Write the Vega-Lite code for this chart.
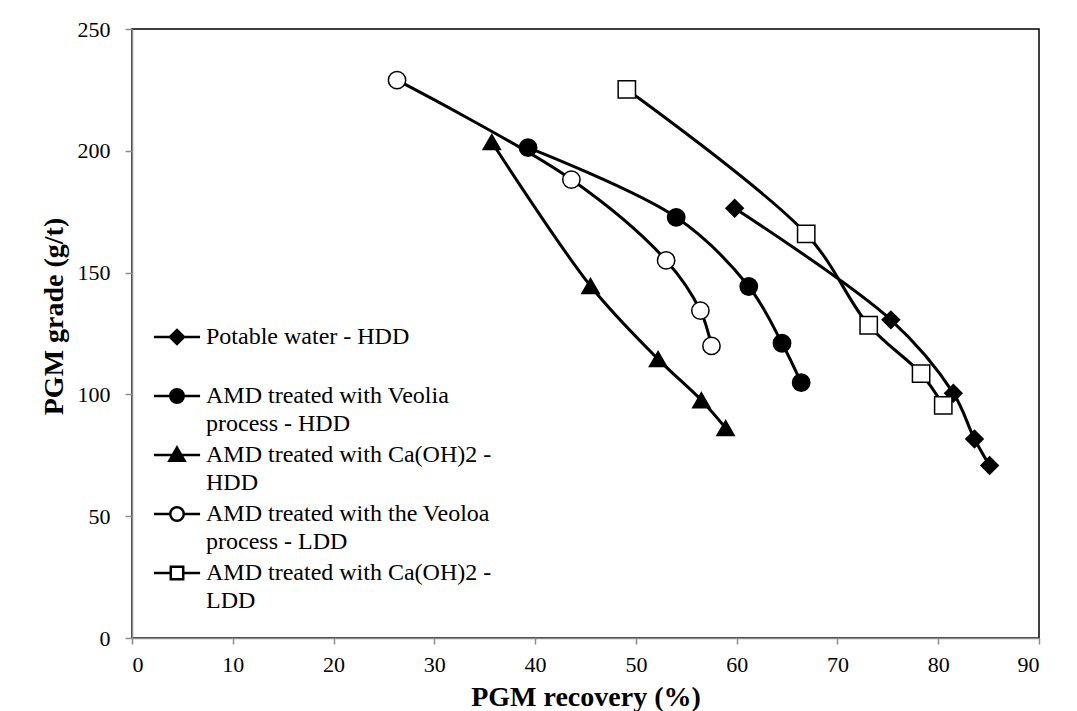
{
  "$schema": "https://vega.github.io/schema/vega-lite/v6.json",
  "width": 907,
  "height": 609,
  "autosize": {"type": "none"},
  "padding": {"left": 132, "top": 29, "right": 38, "bottom": 73},
  "background": "white",
  "config": {
    "font": "Liberation Serif",
    "view": {"stroke": "black", "strokeWidth": 1.5},
    "style": {"guide-label": {"lineHeight": 28}},
    "axis": {
      "domainColor": "#8c8c8c",
      "domainWidth": 1.5,
      "tickColor": "#8c8c8c",
      "tickWidth": 1.5,
      "grid": false,
      "labelFont": "Liberation Serif",
      "labelFontSize": 22,
      "labelColor": "black",
      "titleFont": "Liberation Serif",
      "titleFontSize": 28,
      "titleFontWeight": "bold",
      "titleColor": "black"
    },
    "legend": {
      "title": null,
      "orient": "none",
      "legendX": 26,
      "legendY": 289,
      "padding": 0,
      "rowPadding": 0,
      "labelFont": "Liberation Serif",
      "labelFontSize": 24,
      "labelColor": "black",
      "labelOffset": 10,
      "labelLimit": 0,
      "symbolStrokeWidth": 2.5,
      "symbolOpacity": 1,
      "symbolSize": 1260
    }
  },
  "data": {
    "values": [
      {"s": "Potable water - HDD", "x": 59.8, "y": 176.4},
      {"s": "Potable water - HDD", "x": 75.3, "y": 130.6},
      {"s": "Potable water - HDD", "x": 81.5, "y": 100.5},
      {"s": "Potable water - HDD", "x": 83.6, "y": 81.7},
      {"s": "Potable water - HDD", "x": 85.1, "y": 70.8},
      {"s": "AMD treated with Veolia process - HDD", "x": 39.3, "y": 201.3},
      {"s": "AMD treated with Veolia process - HDD", "x": 54.0, "y": 172.7},
      {"s": "AMD treated with Veolia process - HDD", "x": 61.2, "y": 144.3},
      {"s": "AMD treated with Veolia process - HDD", "x": 64.5, "y": 121.0},
      {"s": "AMD treated with Veolia process - HDD", "x": 66.4, "y": 104.8},
      {"s": "AMD treated with Ca(OH)2 - HDD", "x": 35.7, "y": 203.6},
      {"s": "AMD treated with Ca(OH)2 - HDD", "x": 45.5, "y": 144.5},
      {"s": "AMD treated with Ca(OH)2 - HDD", "x": 52.2, "y": 114.5},
      {"s": "AMD treated with Ca(OH)2 - HDD", "x": 56.5, "y": 97.6},
      {"s": "AMD treated with Ca(OH)2 - HDD", "x": 58.9, "y": 86.2},
      {"s": "AMD treated with the Veoloa process - LDD", "x": 26.3, "y": 229.0},
      {"s": "AMD treated with the Veoloa process - LDD", "x": 43.6, "y": 188.2},
      {"s": "AMD treated with the Veoloa process - LDD", "x": 53.0, "y": 155.0},
      {"s": "AMD treated with the Veoloa process - LDD", "x": 56.4, "y": 134.4},
      {"s": "AMD treated with the Veoloa process - LDD", "x": 57.5, "y": 119.9},
      {"s": "AMD treated with Ca(OH)2 - LDD", "x": 49.1, "y": 225.2},
      {"s": "AMD treated with Ca(OH)2 - LDD", "x": 66.9, "y": 165.9},
      {"s": "AMD treated with Ca(OH)2 - LDD", "x": 73.1, "y": 128.4},
      {"s": "AMD treated with Ca(OH)2 - LDD", "x": 78.3, "y": 108.5},
      {"s": "AMD treated with Ca(OH)2 - LDD", "x": 80.5, "y": 95.5}
    ]
  },
  "encoding": {
    "x": {
      "field": "x", "type": "quantitative",
      "scale": {"domain": [0, 90], "nice": false},
      "axis": {
        "title": "PGM recovery (%)",
        "values": [0, 10, 20, 30, 40, 50, 60, 70, 80, 90],
        "tickSize": 6,
        "labelPadding": 10,
        "titleY": 67,
        "titleBaseline": "alphabetic"
      }
    },
    "y": {
      "field": "y", "type": "quantitative",
      "scale": {"domain": [0, 250], "nice": false},
      "axis": {
        "title": "PGM grade (g/t)",
        "values": [0, 50, 100, 150, 200, 250],
        "tickSize": 7,
        "labelPadding": 15,
        "titleX": -64,
        "titleY": 287,
        "titleAngle": -90,
        "titleAlign": "center",
        "titleBaseline": "bottom"
      }
    }
  },
  "layer": [
    {
      "mark": {"type": "line", "color": "black", "strokeWidth": 3, "interpolate": "catmull-rom"},
      "encoding": {"detail": {"field": "s", "type": "nominal"}}
    },
    {
      "mark": {"type": "point", "filled": true, "stroke": "black", "strokeWidth": 1.5, "opacity": 1},
      "encoding": {
        "shape": {
          "field": "s", "type": "nominal",
          "scale": {
            "domain": ["Potable water - HDD", "AMD treated with Veolia process - HDD", "AMD treated with Ca(OH)2 - HDD", "AMD treated with the Veoloa process - LDD", "AMD treated with Ca(OH)2 - LDD"],
            "range": ["diamond", "circle", "triangle-up", "circle", "square"]
          },
          "legend": null
        },
        "fill": {
          "field": "s", "type": "nominal",
          "scale": {
            "domain": ["Potable water - HDD", "AMD treated with Veolia process - HDD", "AMD treated with Ca(OH)2 - HDD", "AMD treated with the Veoloa process - LDD", "AMD treated with Ca(OH)2 - LDD"],
            "range": ["black", "black", "black", "white", "white"]
          },
          "legend": null
        },
        "size": {
          "field": "s", "type": "nominal",
          "scale": {
            "domain": ["Potable water - HDD", "AMD treated with Veolia process - HDD", "AMD treated with Ca(OH)2 - HDD", "AMD treated with the Veoloa process - LDD", "AMD treated with Ca(OH)2 - LDD"],
            "range": [300, 300, 340, 290, 290]
          },
          "legend": null
        }
      }
    },
    {
      "transform": [{"filter": "false"}],
      "mark": {"type": "point", "filled": false, "strokeWidth": 2.5, "size": 1260, "opacity": 1},
      "encoding": {
        "shape": {
          "field": "s", "type": "nominal",
          "scale": {
            "domain": ["Potable water - HDD", "AMD treated with Veolia process - HDD", "AMD treated with Ca(OH)2 - HDD", "AMD treated with the Veoloa process - LDD", "AMD treated with Ca(OH)2 - LDD"],
            "range": [
              "M-1.3,0H1.3M-0.4,0L0,-0.4L0.4,0L0,0.4Z",
              "M-1.3,0H1.3M-0.38,0A0.38,0.38 0 1,0 0.38,0A0.38,0.38 0 1,0 -0.38,0Z",
              "M-1.3,0H1.3M0,-0.42L0.43,0.33L-0.43,0.33Z",
              "M-1.3,0H-0.38M0.38,0H1.3M-0.38,0A0.38,0.38 0 1,0 0.38,0A0.38,0.38 0 1,0 -0.38,0Z",
              "M-1.3,0H-0.35M0.35,0H1.3M-0.35,-0.35H0.35V0.35H-0.35Z"
            ]
          },
          "legend": {
            "labelExpr": "datum.label == 'Potable water - HDD' ? ['Potable water - HDD', ''] : datum.label == 'AMD treated with Veolia process - HDD' ? ['AMD treated with Veolia', 'process - HDD'] : datum.label == 'AMD treated with Ca(OH)2 - HDD' ? ['AMD treated with Ca(OH)2 -', 'HDD'] : datum.label == 'AMD treated with the Veoloa process - LDD' ? ['AMD treated with the Veoloa', 'process - LDD'] : ['AMD treated with Ca(OH)2 -', 'LDD']"
          }
        },
        "fill": {
          "field": "s", "type": "nominal",
          "scale": {
            "domain": ["Potable water - HDD", "AMD treated with Veolia process - HDD", "AMD treated with Ca(OH)2 - HDD", "AMD treated with the Veoloa process - LDD", "AMD treated with Ca(OH)2 - LDD"],
            "range": ["black", "black", "black", "white", "white"]
          },
          "legend": {
            "labelExpr": "datum.label == 'Potable water - HDD' ? ['Potable water - HDD', ''] : datum.label == 'AMD treated with Veolia process - HDD' ? ['AMD treated with Veolia', 'process - HDD'] : datum.label == 'AMD treated with Ca(OH)2 - HDD' ? ['AMD treated with Ca(OH)2 -', 'HDD'] : datum.label == 'AMD treated with the Veoloa process - LDD' ? ['AMD treated with the Veoloa', 'process - LDD'] : ['AMD treated with Ca(OH)2 -', 'LDD']"
          }
        },
        "stroke": {
          "field": "s", "type": "nominal",
          "scale": {
            "domain": ["Potable water - HDD", "AMD treated with Veolia process - HDD", "AMD treated with Ca(OH)2 - HDD", "AMD treated with the Veoloa process - LDD", "AMD treated with Ca(OH)2 - LDD"],
            "range": ["black", "black", "black", "black", "black"]
          },
          "legend": {
            "labelExpr": "datum.label == 'Potable water - HDD' ? ['Potable water - HDD', ''] : datum.label == 'AMD treated with Veolia process - HDD' ? ['AMD treated with Veolia', 'process - HDD'] : datum.label == 'AMD treated with Ca(OH)2 - HDD' ? ['AMD treated with Ca(OH)2 -', 'HDD'] : datum.label == 'AMD treated with the Veoloa process - LDD' ? ['AMD treated with the Veoloa', 'process - LDD'] : ['AMD treated with Ca(OH)2 -', 'LDD']"
          }
        }
      }
    }
  ],
  "resolve": {"scale": {"shape": "independent", "fill": "independent", "size": "independent", "stroke": "independent"}}
}
